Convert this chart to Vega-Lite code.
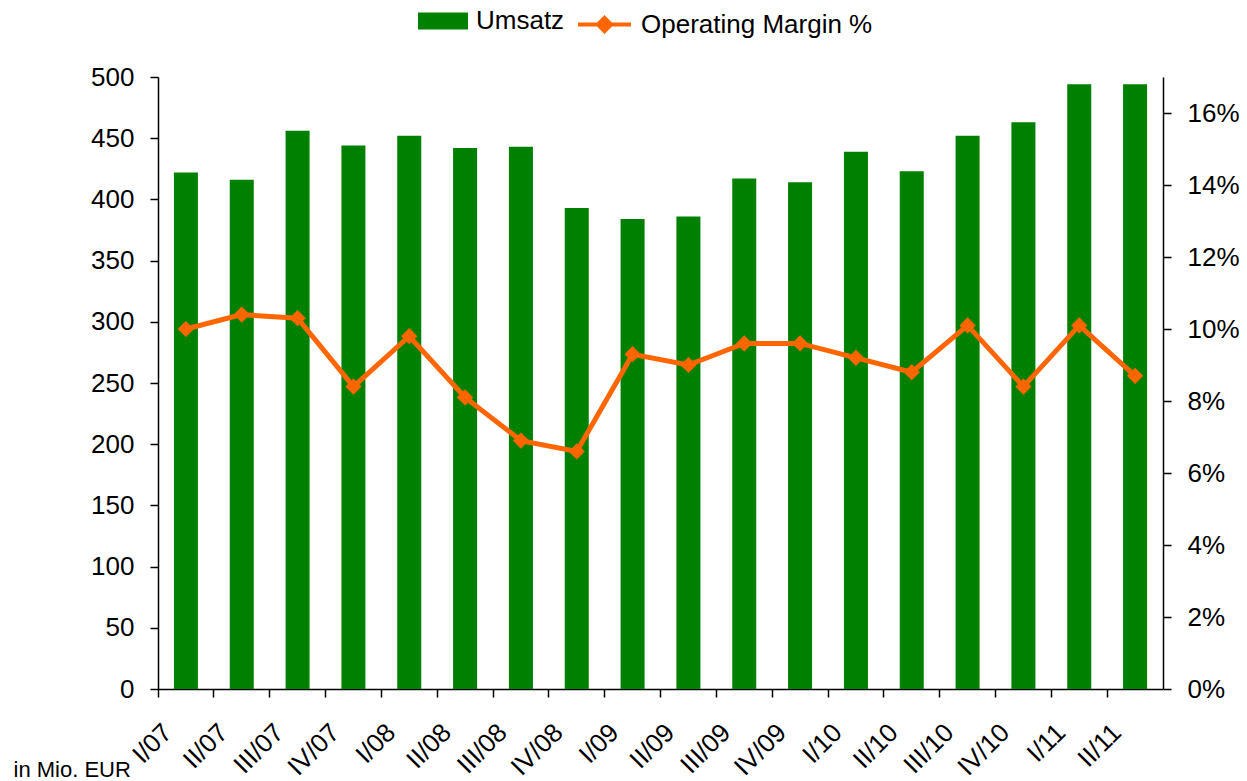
{
  "$schema": "https://vega.github.io/schema/vega-lite/v6.json",
  "width": 1005,
  "height": 612,
  "autosize": {"type": "none"},
  "padding": {"left": 158, "top": 77, "right": 84, "bottom": 92},
  "config": {
    "font": "Liberation Sans",
    "view": {"stroke": null},
    "axis": {
      "domainColor": "black",
      "domainWidth": 1.5,
      "tickColor": "black",
      "tickWidth": 1.5,
      "labelColor": "black",
      "labelFont": "Liberation Sans",
      "labelFontSize": 26,
      "grid": false
    },
    "legend": {"labelFont": "Liberation Sans", "labelFontSize": 26, "labelColor": "black", "labelLimit": 0}
  },
  "data": {
    "values": [
      {"q": "I/07", "umsatz": 422, "margin": 10.0},
      {"q": "II/07", "umsatz": 416, "margin": 10.4},
      {"q": "III/07", "umsatz": 456, "margin": 10.3},
      {"q": "IV/07", "umsatz": 444, "margin": 8.4},
      {"q": "I/08", "umsatz": 452, "margin": 9.8},
      {"q": "II/08", "umsatz": 442, "margin": 8.1},
      {"q": "III/08", "umsatz": 443, "margin": 6.9},
      {"q": "IV/08", "umsatz": 393, "margin": 6.6},
      {"q": "I/09", "umsatz": 384, "margin": 9.3},
      {"q": "II/09", "umsatz": 386, "margin": 9.0},
      {"q": "III/09", "umsatz": 417, "margin": 9.6},
      {"q": "IV/09", "umsatz": 414, "margin": 9.6},
      {"q": "I/10", "umsatz": 439, "margin": 9.2},
      {"q": "II/10", "umsatz": 423, "margin": 8.8},
      {"q": "III/10", "umsatz": 452, "margin": 10.1},
      {"q": "IV/10", "umsatz": 463, "margin": 8.4},
      {"q": "I/11", "umsatz": 494, "margin": 10.1},
      {"q": "II/11", "umsatz": 494, "margin": 8.7}
    ]
  },
  "encoding": {
    "x": {
      "field": "q",
      "type": "ordinal",
      "sort": null,
      "scale": {"paddingInner": 0, "paddingOuter": 0},
      "axis": {
        "title": null,
        "bandPosition": 0,
        "labelAngle": -45,
        "labelAlign": "right",
        "labelBaseline": "middle",
        "labelOffset": -18,
        "labelPadding": 31,
        "tickSize": 8,
        "labelFontSize": 26
      }
    }
  },
  "layer": [
    {
      "mark": {"type": "bar", "width": {"band": 0.43}},
      "encoding": {
        "y": {
          "field": "umsatz",
          "type": "quantitative",
          "scale": {"domain": [0, 500], "nice": false},
          "axis": {
            "values": [0, 50, 100, 150, 200, 250, 300, 350, 400, 450, 500],
            "tickSize": 8,
            "labelPadding": 16,
            "title": "in Mio. EUR",
            "titleAngle": 0,
            "titleAlign": "left",
            "titleBaseline": "alphabetic",
            "titleX": -145,
            "titleY": 699,
            "titleFont": "Liberation Sans",
            "titleFontSize": 22,
            "titleFontWeight": "normal",
            "titleColor": "black"
          }
        },
        "fill": {
          "datum": "Umsatz",
          "scale": {"domain": ["Umsatz"], "range": ["#008000"]},
          "legend": {
            "title": null,
            "orient": "none",
            "legendX": 260,
            "legendY": -81,
            "symbolType": "M-1,-0.34H1V0.34H-1Z",
            "symbolSize": 2500,
            "symbolStrokeWidth": 0,
            "labelOffset": 8,
            "labelFontSize": 26,
            "labelLimit": 0
          }
        }
      }
    },
    {
      "mark": {
        "type": "line",
        "strokeWidth": 5,
        "point": {"shape": "diamond", "size": 180, "filled": true, "fill": "#FF6600"}
      },
      "encoding": {
        "y": {
          "field": "margin",
          "type": "quantitative",
          "scale": {"domain": [0, 17], "nice": false},
          "axis": {
            "orient": "right",
            "values": [0, 2, 4, 6, 8, 10, 12, 14, 16],
            "labelExpr": "datum.value + '%'",
            "tickSize": 8,
            "labelPadding": 16,
            "title": null
          }
        },
        "stroke": {
          "datum": "Operating Margin %",
          "scale": {"domain": ["Operating Margin %"], "range": ["#FF6600"]},
          "legend": {
            "title": null,
            "orient": "none",
            "legendX": 418,
            "legendY": -81,
            "symbolType": "M-1,0H1M0,-0.25L0.25,0L0,0.25L-0.25,0Z",
            "symbolSize": 2809,
            "symbolStrokeWidth": 4,
            "symbolFillColor": "#FF6600",
            "labelOffset": 8,
            "labelFontSize": 26,
            "labelLimit": 0
          }
        }
      }
    }
  ],
  "resolve": {"scale": {"y": "independent"}}
}
